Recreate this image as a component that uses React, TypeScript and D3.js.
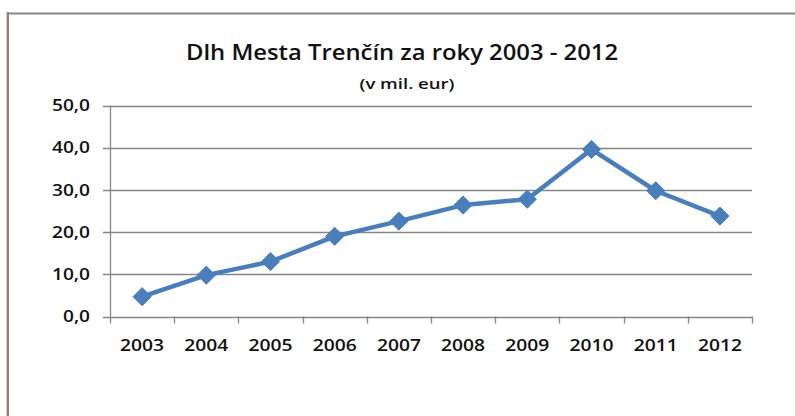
import React from "react";
import * as d3 from "d3";

const years = ["2003", "2004", "2005", "2006", "2007", "2008", "2009", "2010", "2011", "2012"];
const debt = [4.7, 9.8, 13.0, 19.0, 22.6, 26.4, 27.8, 39.6, 29.8, 23.8];
const yTicks = [0, 10, 20, 30, 40, 50];
const titleText = "Dlh Mesta Trenčín za roky 2003 - 2012";
const subtitleText = "(v mil. eur)";

const W = 795;
const H = 416;
const plot = { left: 110, right: 752, top: 105.5, bottom: 316.5 };
const FONT = "'Open Sans', 'Noto Sans', sans-serif";
const GRID = "#868686";
const BLUE = "#4a7ebb";

export default function App() {
  const x = d3.scaleBand<string>().domain(years).range([plot.left, plot.right]);
  const y = d3.scaleLinear().domain([0, 50]).range([plot.bottom, plot.top]);
  const fmt = (v: number) => v.toFixed(1).replace(".", ",");
  const line = d3
    .line<number>()
    .x((_, i) => (x(years[i]) as number) + x.bandwidth() / 2)
    .y((d) => y(d));
  const diamond = d3.symbol().type(d3.symbolDiamond2).size(210)();

  return (
    <svg
      width={W}
      height={H}
      style={{ position: "absolute", left: 0, top: 0, background: "#fff" }}
      fontFamily={FONT}
    >
      {/* frame */}
      <line x1={6.5} y1={12} x2={6.5} y2={H} stroke="#f6c49a" strokeWidth={1} />
      <line x1={8} y1={12} x2={8} y2={H} stroke="#878787" strokeWidth={2} />
      <line x1={7} y1={13.5} x2={W} y2={13.5} stroke="#878787" strokeWidth={2} />

      {/* title */}
      <text x={402} y={60} textAnchor="middle" fontSize={21.5} fontWeight={600} fill="#111"
        textLength={432} lengthAdjust="spacingAndGlyphs">
        {titleText}
      </text>
      <text x={407} y={89} textAnchor="middle" fontSize={15} fontWeight={600} fill="#111"
        textLength={95} lengthAdjust="spacingAndGlyphs">
        {subtitleText}
      </text>

      {/* gridlines and y axis */}
      {yTicks.map((t) => {
        const label = fmt(t);
        return (
          <g key={t}>
            <line x1={plot.left - 7} x2={plot.right} y1={Math.round(y(t)) + 0.5} y2={Math.round(y(t)) + 0.5}
              stroke={GRID} strokeWidth={1.3} />
            <text x={90} y={y(t)} dy="0.36em" textAnchor="end" fontSize={16} fontWeight={600} fill="#111"
              textLength={label.length > 3 ? 38 : 27} lengthAdjust="spacingAndGlyphs">
              {label}
            </text>
          </g>
        );
      })}
      <line x1={plot.left + 0.5} x2={plot.left + 0.5} y1={plot.top} y2={plot.bottom} stroke={GRID} strokeWidth={1.3} />

      {/* x axis ticks and labels */}
      {years.map((yr, i) => {
        const x0 = x(yr) as number;
        return (
          <g key={yr}>
            <line x1={Math.round(x0) + 0.5} x2={Math.round(x0) + 0.5} y1={plot.bottom} y2={plot.bottom + 7}
              stroke={GRID} strokeWidth={1.3} />
            {i === years.length - 1 && (
              <line x1={plot.right + 0.5} x2={plot.right + 0.5} y1={plot.bottom} y2={plot.bottom + 7}
                stroke={GRID} strokeWidth={1.3} />
            )}
            <text x={x0 + x.bandwidth() / 2} y={351} textAnchor="middle" fontSize={16.5} fontWeight={600} fill="#111"
              textLength={44} lengthAdjust="spacingAndGlyphs">
              {yr}
            </text>
          </g>
        );
      })}

      {/* series */}
      <path d={line(debt) || ""} fill="none" stroke={BLUE} strokeWidth={4.5} strokeLinejoin="round" />
      {debt.map((v, i) => (
        <path key={i} d={diamond || ""}
          transform={`translate(${(x(years[i]) as number) + x.bandwidth() / 2},${y(v)})`}
          fill={BLUE} stroke={BLUE} strokeWidth={1} />
      ))}
    </svg>
  );
}
